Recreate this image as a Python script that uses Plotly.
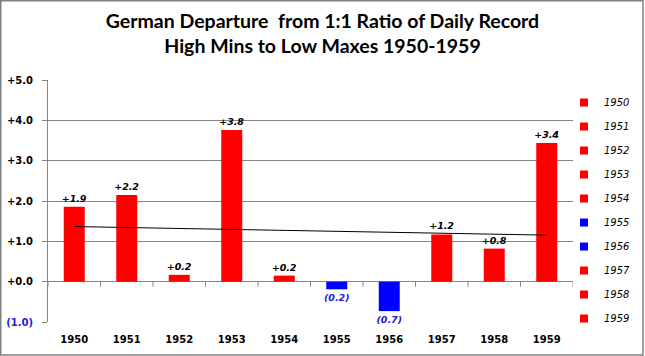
import numpy as np
import plotly.graph_objects as go

years = [1950, 1951, 1952, 1953, 1954, 1955, 1956, 1957, 1958, 1959]
values = [1.86, 2.15, 0.17, 3.76, 0.15, -0.19, -0.73, 1.17, 0.82, 3.44]
labels = ["+1.9", "+2.2", "+0.2", "+3.8", "+0.2", "(0.2)", "(0.7)", "+1.2", "+0.8", "+3.4"]
ytick_vals = [-1, 0, 1, 2, 3, 4, 5]
ytick_text = ["<span style='color:#2020E0'>(1.0)</span>", "+0.0", "+1.0", "+2.0", "+3.0", "+4.0", "+5.0"]

RED = "#FF0000"
BLUE = "#0000FF"
GRID = "#868686"
bar_colors = [RED if v >= 0 else BLUE for v in values]
label_colors = ["#000000" if v >= 0 else "#2020E0" for v in values]

W, H = 645, 356
ML, MR, MT, MB = 48, 72, 80, 34
PW, PH = W - ML - MR, H - MT - MB
YMIN, YMAX = -1, 5
TICK_PX = 5
tick_len = TICK_PX * (YMAX - YMIN) / PH

fig = go.Figure()
fig.add_trace(go.Bar(
    x=years, y=values, marker=dict(color=bar_colors, line=dict(width=0)),
    width=0.4, text=labels, textposition="outside", constraintext="none",
    textfont=dict(family="DejaVu Sans", size=9.5, color=label_colors, weight="bold", style="italic"),
    cliponaxis=False, showlegend=False, hoverinfo="skip",
))

# linear trendline
coef = np.polyfit(np.arange(len(years)), values, 1)
trend = np.polyval(coef, np.arange(len(years)))
fig.add_trace(go.Scatter(
    x=years, y=trend, mode="lines", line=dict(color="#000000", width=1),
    showlegend=False, hoverinfo="skip",
))

# category boundary tick marks hanging from the zero line
boundaries = [y + 0.5 for y in [years[0] - 1] + years]
fig.add_trace(go.Scatter(
    x=boundaries, y=[0] * len(boundaries), mode="markers",
    marker=dict(size=1, opacity=0),
    error_y=dict(type="data", symmetric=False, array=[0] * len(boundaries),
                 arrayminus=[tick_len] * len(boundaries), width=0, thickness=1, color=GRID),
    cliponaxis=False, showlegend=False, hoverinfo="skip",
))

# legend entries
for i, (yr, c) in enumerate(zip(years, bar_colors)):
    fig.add_trace(go.Scatter(
        x=[None], y=[None], mode="markers", name=str(yr),
        marker=dict(symbol="square", size=8, color=c),
        legendgroup=f"g{i}", showlegend=True,
    ))

fig.update_layout(
    width=W, height=H,
    margin=dict(l=ML, r=MR, t=MT, b=MB, autoexpand=False),
    paper_bgcolor="white", plot_bgcolor="white",
    title=dict(
        text="German Departure  from 1:1 Ratio of Daily Record<br>High Mins to Low Maxes 1950-1959",
        x=0.5, xanchor="center", y=1 - 28 / H, yanchor="middle",
        font=dict(family="Lato", size=19.5, color="#000000", weight="bold"),
    ),
    barmode="overlay",
    xaxis=dict(
        range=[years[0] - 0.5, years[-1] + 0.5], tickvals=years, ticktext=[str(y) for y in years],
        showline=False, showgrid=False, zeroline=False, ticks="",
        tickfont=dict(family="DejaVu Sans", size=10, color="#000000", weight="bold"),
        ticklabelstandoff=10, automargin=False, fixedrange=True,
    ),
    yaxis=dict(
        range=[YMIN, YMAX], tickvals=ytick_vals, ticktext=ytick_text,
        showgrid=True, gridcolor=GRID, gridwidth=1,
        zeroline=True, zerolinecolor=GRID, zerolinewidth=1,
        showline=True, linecolor=GRID, linewidth=1,
        ticks="outside", ticklen=TICK_PX, tickcolor=GRID,
        tickfont=dict(family="DejaVu Sans", size=10, color="#000000", weight="bold"),
        ticklabelstandoff=7, automargin=False, fixedrange=True,
    ),
    legend=dict(
        x=(564 - ML) / PW, y=(H - MB - 88) / PH, xanchor="left", yanchor="top",
        traceorder="grouped", tracegroupgap=5, itemwidth=30,
        font=dict(family="DejaVu Sans", size=10, color="#000000", style="italic"),
        bgcolor="rgba(0,0,0,0)",
    ),
    shapes=[dict(
        type="rect", xref="paper", yref="paper",
        x0=(0.75 - ML) / PW, x1=(643 - ML) / PW,
        y0=(H - MB - 355) / PH, y1=(H - MB - 0.75) / PH,
        line=dict(color="#808080", width=1.5), fillcolor="rgba(0,0,0,0)", layer="above",
    )],
)

fig.write_html(
    "out.html",
    config={"displayModeBar": False, "staticPlot": True},
    post_script="document.body.style.margin='0';document.body.style.padding='0';",
)
